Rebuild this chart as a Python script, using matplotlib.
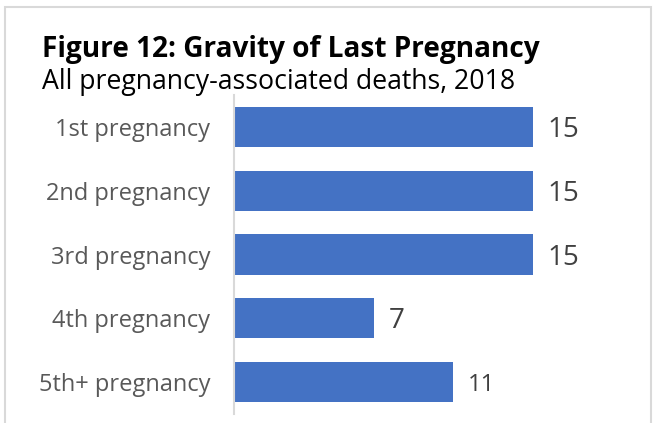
import matplotlib.pyplot as plt
from matplotlib.patches import Rectangle

categories = ['1st pregnancy', '2nd pregnancy', '3rd pregnancy', '4th pregnancy', '5th+ pregnancy']
deaths = [15, 15, 15, 7, 11]
label_sizes = [20, 20, 20, 20, 17]

bar_color = '#4472C4'

fig = plt.figure(figsize=(6.58, 4.23), dpi=100)
W, H = 658, 423

# light frame round the whole figure (bottom edge falls off the canvas)
fig.patches.append(Rectangle((5 / W, -0.05), 646 / W, 1 - 7 / H + 0.05,
                             transform=fig.transFigure, fill=False,
                             edgecolor='#D9D9D9', linewidth=1.5))

fig.text(42 / W, 1 - 49 / H, 'Figure 12: Gravity of Last Pregnancy',
         fontsize=20.2, fontweight='bold', family='Open Sans', color='black', va='center')
fig.text(42 / W, 1 - 82 / H, 'All pregnancy-associated deaths, 2018',
         fontsize=19.2, family='Open Sans', color='black', va='center')

ax = fig.add_axes([234 / W, 1 - 414 / H, (651 - 234) / W, (414 - 95) / H])
y = list(range(len(categories)))
ax.barh(y, deaths, height=0.63, color=bar_color)
ax.set_ylim(len(categories) - 0.5, -0.5)
ax.set_xlim(0, (651 - 234) / 19.93)

for yi, v, fs in zip(y, deaths, label_sizes):
    ax.text(v + 0.75, yi + 0.05, str(v), va='center', ha='left',
            fontsize=fs, family='Open Sans', color='#404040')

ax.set_yticks(y)
ax.set_yticklabels(categories, fontsize=17, family='Open Sans', color='#595959')
ax.tick_params(axis='y', length=0, pad=17)
ax.set_xticks([])
for side in ['top', 'right', 'bottom']:
    ax.spines[side].set_visible(False)
ax.spines['left'].set_color('#D9D9D9')
ax.spines['left'].set_linewidth(1.5)

fig.savefig('out.png', dpi=100)
